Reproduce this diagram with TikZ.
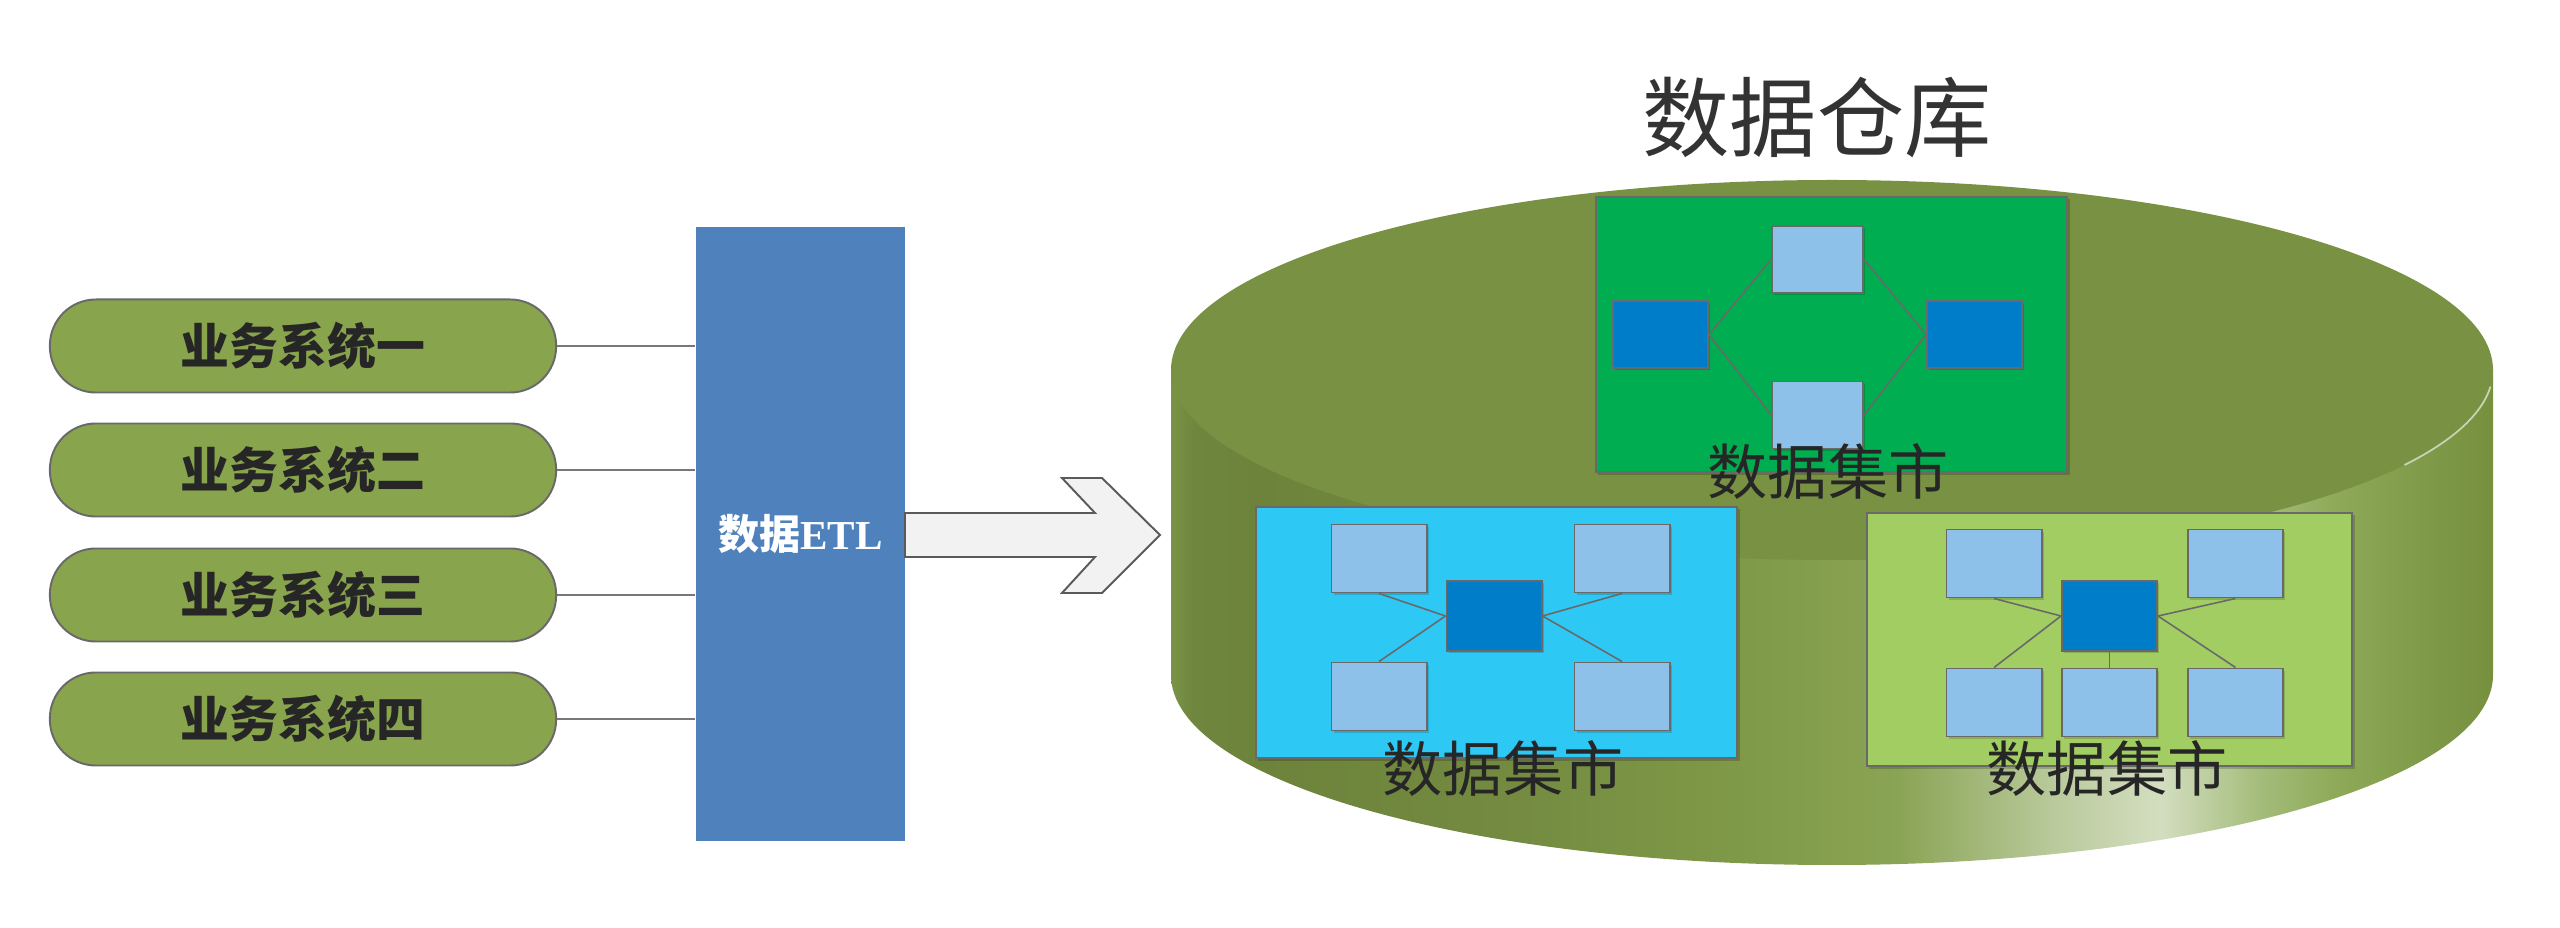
\documentclass[tikz,border=0pt]{standalone}
\usepackage{fontspec}
\newfontfamily\cjk{Noto Sans CJK SC}
\newfontfamily\etlfont{Liberation Serif}
\usetikzlibrary{shadows,calc}
\definecolor{pillgreen}{RGB}{136,164,76}
\definecolor{etlblue}{RGB}{79,129,189}
\definecolor{olivetop}{RGB}{120,145,66}
\definecolor{martgreen}{RGB}{0,173,80}
\definecolor{martcyan}{RGB}{46,200,245}
\definecolor{martlime}{RGB}{162,205,98}
\definecolor{lightbox}{RGB}{141,193,233}
\definecolor{darkbox}{RGB}{0,125,201}
\definecolor{edgegray}{RGB}{105,105,105}
\definecolor{linegray}{RGB}{120,120,120}
\definecolor{txt}{RGB}{38,38,38}
\definecolor{titletxt}{RGB}{51,51,51}
\definecolor{arrowedge}{RGB}{90,90,90}
\definecolor{cyla}{RGB}{122,148,70}
\definecolor{cylb}{RGB}{111,134,62}
\definecolor{cylc}{RGB}{109,131,59}
\definecolor{cyld}{RGB}{115,138,64}
\definecolor{cyle}{RGB}{127,154,72}
\definecolor{cylf}{RGB}{138,164,85}
\definecolor{cylg}{RGB}{184,201,154}
\definecolor{cylh}{RGB}{211,222,192}
\definecolor{cyli}{RGB}{164,188,122}
\definecolor{cylj}{RGB}{143,171,90}
\definecolor{cylk}{RGB}{126,153,72}
\definecolor{cyll}{RGB}{118,144,62}
\pgfdeclarehorizontalshading{cylbody}{100bp}{color(0bp)=(cyla); color(25bp)=(cyla); color(25.85bp)=(cylb); color(28.35bp)=(cylc); color(37.4bp)=(cyld); color(46.9bp)=(cyle); color(52.55bp)=(cylf); color(58.25bp)=(cylg); color(62.4bp)=(cylh); color(66.2bp)=(cyli); color(68.85bp)=(cylj); color(72.6bp)=(cylk); color(75bp)=(cyll); color(100bp)=(cyll)}
\tikzset{
  pill/.style={draw=edgegray, line width=0.55pt, fill=pillgreen, rounded corners=0.46cm,
    minimum width=5.06cm, minimum height=0.93cm, inner sep=0pt,
    font=\cjk\bfseries\fontsize{13.9}{16}\selectfont, text=txt},
  link/.style={draw=linegray, line width=0.55pt},
  etlbox/.style={fill=etlblue, minimum width=2.09cm, minimum height=6.14cm, inner sep=0pt,
    text=white, font=\bfseries\fontsize{11.7}{14}\selectfont},
  mart/.style={draw=edgegray, line width=0.55pt, inner sep=0pt,
    drop shadow={fill=black, opacity=0.18, shadow xshift=0.7pt, shadow yshift=-0.7pt}},
  lbox/.style={draw=edgegray, line width=0.55pt, fill=lightbox, minimum width=0.95cm,
    minimum height=0.68cm, inner sep=0pt,
    drop shadow={fill=black, opacity=0.15, shadow xshift=0.6pt, shadow yshift=-0.6pt}},
  dbox/.style={lbox, fill=darkbox},
  wire/.style={draw=edgegray, line width=0.45pt},
  lbl/.style={font=\cjk\fontsize{17.1}{20}\selectfont, text=txt, inner sep=0pt},
  ttl/.style={font=\cjk\fontsize{24.8}{28}\selectfont, text=titletxt, inner sep=0pt},
  blockarrow/.style={draw=arrowedge, line width=0.55pt, fill=black!5, line join=miter}
}
\begin{document}
\begin{tikzpicture}[x=0.01cm, y=-0.01cm]
\useasboundingbox (0,0) rectangle (2560,928);

% business systems
\node[pill] (p1) at (303,346) {业务系统一};
\node[pill] (p2) at (303,470) {业务系统二};
\node[pill] (p3) at (303,595) {业务系统三};
\node[pill] (p4) at (303,719) {业务系统四};

% ETL
\node[etlbox] (etl) at (800.5,534) {{\cjk 数据}{\etlfont ETL}};
\foreach \p in {p1,p2,p3,p4}
  \draw[link] (\p.east) -- (\p.east -| etl.west);

% block arrow
\path[blockarrow] (905,513) -- (1095,513) -- (1062,478) -- (1102,478) -- (1160,535)
  -- (1102,593) -- (1062,593) -- (1095,557) -- (905,557) -- cycle;

% cylinder
\shade[shading=cylbody] (1171,370) -- (1171,675)
  arc[start angle=180, end angle=0, x radius=661, y radius=190] -- (2493,370) -- cycle;
\fill[olivetop] (1832,370) ellipse [x radius=661, y radius=190];
\draw[white!60!olivetop, line width=0.5pt] (1832,370) ++(5:661 and 190)
  arc[start angle=5, end angle=30, x radius=661, y radius=190];

% title
\node[ttl] (title) at (1817,118) {数据仓库};

% top data mart
\node[mart, fill=martgreen, minimum width=4.71cm, minimum height=2.75cm] (m1) at (1831.5,334.5) {};
\node[lbox, minimum width=0.91cm, minimum height=0.67cm] (m1t) at (1817.5,259.5) {};
\node[lbox, minimum width=0.91cm, minimum height=0.67cm] (m1b) at (1817.5,415) {};
\node[dbox, minimum height=0.67cm] (m1l) at (1660.5,334.5) {};
\node[dbox, minimum height=0.67cm] (m1r) at (1974.5,334.5) {};
\draw[wire] (m1l.east) -- (m1t.west);
\draw[wire] (m1l.east) -- (m1b.west);
\draw[wire] (m1t.east) -- (m1r.west);
\draw[wire] (m1b.east) -- (m1r.west);
\node[lbl] (m1lbl) at (1828,472) {数据集市};

% cyan data mart
\node[mart, fill=martcyan, minimum width=4.81cm, minimum height=2.51cm] (m2) at (1496.5,632.5) {};
\node[lbox] (m2tl) at (1379,558.5) {};
\node[lbox] (m2tr) at (1622,558.5) {};
\node[lbox] (m2bl) at (1379,696.5) {};
\node[lbox] (m2br) at (1622,696.5) {};
\node[dbox, minimum height=0.70cm] (m2c) at (1494,616) {};
\draw[wire] (m2tl.south) -- (m2c.west);
\draw[wire] (m2bl.north) -- (m2c.west);
\draw[wire] (m2tr.south) -- (m2c.east);
\draw[wire] (m2br.north) -- (m2c.east);
\node[lbl] (m2lbl) at (1503,768) {数据集市};

% lime data mart
\node[mart, fill=martlime, minimum width=4.85cm, minimum height=2.53cm] (m3) at (2109.5,639.5) {};
\node[lbox] (m3tl) at (1994,563.5) {};
\node[lbox] (m3tr) at (2235.5,563.5) {};
\node[lbox] (m3bl) at (1994,702.5) {};
\node[lbox] (m3bm) at (2109.5,702.5) {};
\node[lbox] (m3br) at (2235.5,702.5) {};
\node[dbox, minimum height=0.70cm] (m3c) at (2109.5,616) {};
\draw[wire] (m3tl.south) -- (m3c.west);
\draw[wire] (m3bl.north) -- (m3c.west);
\draw[wire] (m3tr.south) -- (m3c.east);
\draw[wire] (m3br.north) -- (m3c.east);
\draw[wire] (m3bm.north) -- (m3c.south);
\node[lbl] (m3lbl) at (2107,768) {数据集市};
\end{tikzpicture}
\end{document}
